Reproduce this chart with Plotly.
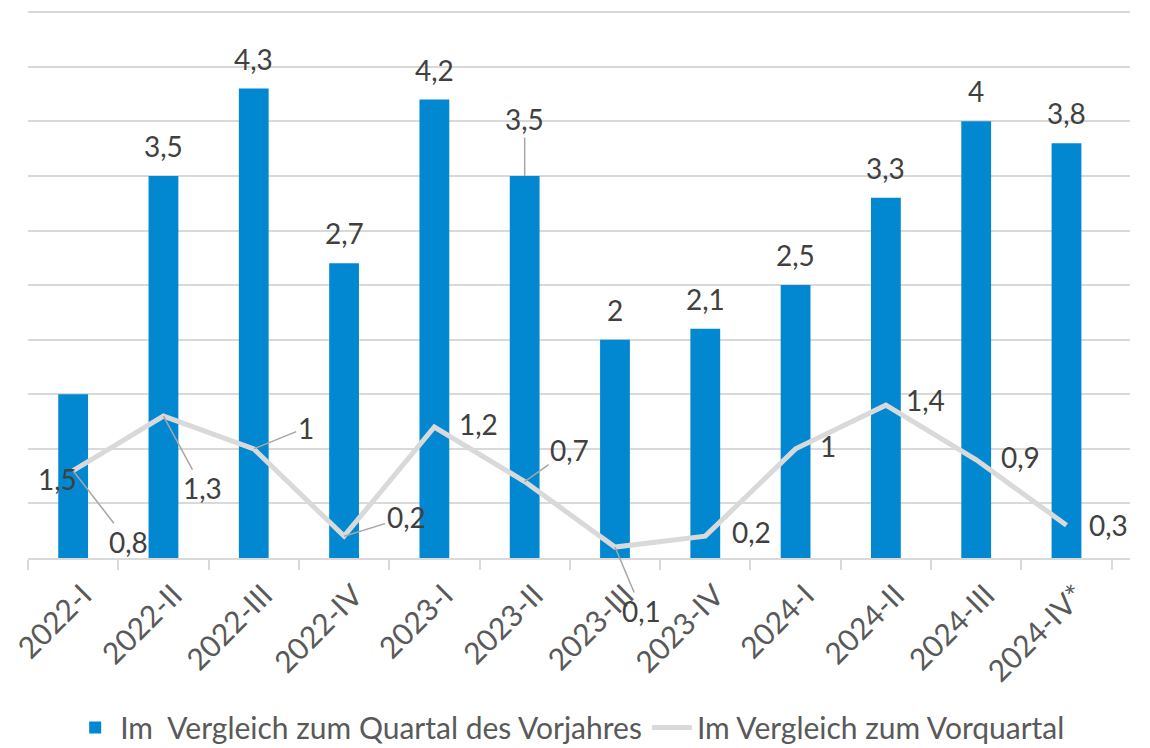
import plotly.graph_objects as go

categories = ["2022-I", "2022-II", "2022-III", "2022-IV", "2023-I", "2023-II",
              "2023-III", "2023-IV", "2024-I", "2024-II", "2024-III", "2024-IV*"]
yoy_values = [1.5, 3.5, 4.3, 2.7, 4.2, 3.5, 2.0, 2.1, 2.5, 3.3, 4.0, 3.8]
qoq_values = [0.8, 1.3, 1.0, 0.2, 1.2, 0.7, 0.1, 0.2, 1.0, 1.4, 0.9, 0.3]

yoy_name = "Im  Vergleich zum Quartal des Vorjahres"
qoq_name = "Im Vergleich zum Vorquartal"

BLUE = "#0288D1"
GRAY = "#D9D9D9"
TXT = "#404040"
FONT = "Lato, Carlito, 'Open Sans', sans-serif"

def fmt(v):
    return ("%g" % v).replace(".", ",")

fig = go.Figure()
fig.add_trace(go.Bar(x=categories, y=yoy_values, name=yoy_name,
                     marker=dict(color=BLUE, line=dict(width=0))))
fig.add_trace(go.Scatter(x=categories, y=qoq_values, name=qoq_name, mode="lines",
                         line=dict(color=GRAY, width=5)))

annotations = []
bar_label_pos = {0: (-16, -85, False), 5: (0, 57, True)}
for i, (c, v) in enumerate(zip(categories, yoy_values)):
    xs, ys, arrow = bar_label_pos.get(i, (0, 30, False))
    if arrow:
        annotations.append(dict(x=c, y=v, text=fmt(v), showarrow=True, ax=xs, ay=-ys,
                                arrowhead=0, arrowwidth=1.5, arrowcolor="#A6A6A6",
                                font=dict(size=28, color=TXT, family=FONT)))
    else:
        annotations.append(dict(x=c, y=v, text=fmt(v), showarrow=False,
                                xshift=xs, yshift=ys,
                                font=dict(size=28, color=TXT, family=FONT)))

line_label_pos = [(55, 71, True), (39, 72, True), (52, -21, True), (62, -19, True),
                  (44, -3, False), (45, -32, True), (27, 64, True), (46, -4, False),
                  (32, -3, False), (40, -5, False), (44, -3, False), (42, 0, False)]
for (c, v), (dx, dy, arrow) in zip(zip(categories, qoq_values), line_label_pos):
    if arrow:
        annotations.append(dict(x=c, y=v, text=fmt(v), showarrow=True, ax=dx, ay=dy,
                                arrowhead=0, arrowwidth=1.5, arrowcolor="#A6A6A6",
                                font=dict(size=28, color=TXT, family=FONT)))
    else:
        annotations.append(dict(x=c, y=v, text=fmt(v), showarrow=False,
                                xshift=dx, yshift=-dy,
                                font=dict(size=28, color=TXT, family=FONT)))

fig.update_layout(
    width=1150, height=748,
    margin=dict(l=20, r=28, t=2, b=198, autoexpand=False),
    plot_bgcolor="white", paper_bgcolor="white",
    bargap=0.67,
    font=dict(family=FONT, color="#595959"),
    annotations=annotations,
    showlegend=True,
    legend=dict(orientation="h", x=0.492, xanchor="center",
                yref="container", y=0.038, yanchor="middle",
                font=dict(size=30, color="#595959", family=FONT),
                itemwidth=40, tracegroupgap=0),
    xaxis=dict(tickangle=-45, tickfont=dict(size=30, color="#595959", family=FONT),
               showline=True, linecolor=GRAY, linewidth=1.5,
               ticks="outside", tickson="boundaries", ticklen=10, tickcolor=GRAY,
               tickwidth=1.5, showgrid=False, automargin=False,
               ticklabelstandoff=6, ticklabelshift=10),
    yaxis=dict(range=[0, 5.02], dtick=0.5, showticklabels=False, showgrid=True,
               gridcolor=GRAY, gridwidth=1.5, zeroline=False, showline=False,
               automargin=False),
)

fig.write_html("out.html")
